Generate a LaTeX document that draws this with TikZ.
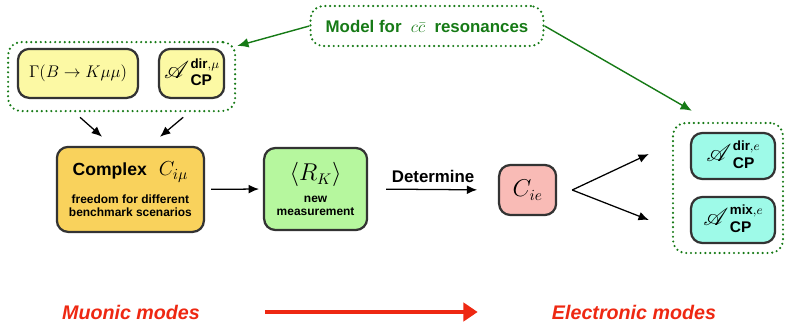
\documentclass[tikz,border=0pt]{standalone}
\usepackage{fontspec}
\setmainfont{Liberation Sans}
\usepackage{amsmath}
\usepackage{amssymb}
\usepackage{mathrsfs}
\usepackage{xcolor}
\usetikzlibrary{arrows.meta}

\definecolor{boxyellow}{RGB}{252,249,164}
\definecolor{cplxorange}{RGB}{249,210,92}
\definecolor{rkgreen}{RGB}{182,247,158}
\definecolor{ciepink}{RGB}{249,187,182}
\definecolor{ecyan}{RGB}{158,250,232}
\definecolor{modelgreen}{RGB}{22,122,22}
\definecolor{modered}{RGB}{238,40,18}

% asymmetry symbol: script A, small upper label, CP below
\newcommand{\acpsym}[1]{{\fontsize{16}{16}\selectfont\raisebox{5pt}{$\mathscr{A}$}}\hspace{1pt}\begin{tabular}[b]{@{}l@{}}{\fontsize{9.5}{10}\selectfont #1}\\CP\end{tabular}}

\begin{document}
\begin{tikzpicture}[
    box/.style={draw=black!80,line width=1.6pt,rounded corners=8pt,align=center,inner sep=2pt},
    asym/.style={box,font=\fontsize{11}{12.5}\selectfont\bfseries},
    grp/.style={draw=modelgreen,line width=1.7pt,dash pattern=on 0pt off 3.4pt,line cap=round,rounded corners=9pt},
    arr/.style={-{Latex[length=2.6mm,width=2.2mm]},line width=0.9pt},
    garr/.style={-{Latex[length=2.8mm,width=2.4mm]},line width=1pt,draw=modelgreen,fill=modelgreen},
    redarr/.style={-{Triangle[length=3.6mm,width=4.6mm]},line width=2.8pt,draw=modered,fill=modered},
    lbl/.style={font=\fontsize{12}{14}\selectfont\bfseries},
    mode/.style={text=modered,inner sep=0pt,font=\fontsize{14}{16}\selectfont\bfseries\itshape}
  ]
  \useasboundingbox (0,0) rectangle (19.65,8.225);

            % top: model for the resonances
            \node (model) at (10.675,7.575) [grp,minimum width=5.825cm,minimum height=1cm,text=modelgreen,lbl] {Model for \;$c\bar{c}$\; resonances};

            % muonic inputs
            \node (gam) at (1.95,6.39) [box,fill=boxyellow,minimum width=3cm,minimum height=1.225cm,font=\fontsize{13}{15}\selectfont] {$\Gamma(B\to K\mu\mu)$};
            \node (adirmu) at (4.79,6.39) [asym,fill=boxyellow,minimum width=1.625cm,minimum height=1.225cm] {\acpsym{dir${,}\mu$}};
            \node (lgrp) at (3.04,6.31) [grp,minimum width=5.675cm,minimum height=1.725cm] {};

            % middle row
            \node (cplx) at (3.26,3.49) [box,fill=cplxorange,minimum width=3.675cm,minimum height=2.125cm,font=\fontsize{8.5}{9.5}\selectfont\bfseries] {{\fontsize{12.5}{14}\selectfont Complex}\quad{\fontsize{15}{15}\selectfont$C_{i\mu}$}\\[8pt]freedom for different\\benchmark scenarios};
            \node (rk) at (7.89,3.5) [box,fill=rkgreen,minimum width=2.575cm,minimum height=2.05cm,font=\fontsize{8.5}{9.5}\selectfont\bfseries] {{\fontsize{16}{16}\selectfont$\langle R_K\rangle$}\\[6pt]new\\measurement};
            \node (cie) at (13.19,3.475) [box,fill=ciepink,minimum width=1.425cm,minimum height=1.25cm,font=\fontsize{16}{16}\selectfont] {$C_{ie}$};

            % electronic outputs
            \node (edir) at (18.325,4.325) [asym,fill=ecyan,minimum width=2.1cm,minimum height=1.15cm] {\acpsym{dir${,}e$}};
            \node (emix) at (18.325,2.725) [asym,fill=ecyan,minimum width=2.1cm,minimum height=1.15cm] {\acpsym{mix${,}e$}};
            \node (rgrp) at (18.2,3.525) [grp,minimum width=2.75cm,minimum height=3.25cm] {};

            % bottom
            \node (muon) at (3.275,0.425) [mode] {Muonic modes};
            \node (elec) at (15.85,0.425) [mode] {Electronic modes};

            \coordinate (fork) at ([xshift=0.375cm]cie.east);

            \draw[arr] ([xshift=-1.04cm,yshift=-0.125cm]lgrp.south) -- ([xshift=-0.71cm,yshift=0.225cm]cplx.north);
            \draw[arr] ([xshift=1.54cm,yshift=-0.125cm]lgrp.south) -- ([xshift=0.74cm,yshift=0.225cm]cplx.north);
            \draw[arr,shorten <=0.15cm,shorten >=0.1cm] (cplx.east) -- (rk.west);
            \draw[arr,shorten <=0.45cm,shorten >=0.52cm] (rk.east) -- node[above,lbl,yshift=1pt] {Determine} (cie.west);
            \draw[arr] (fork) -- ([xshift=-1.025cm,yshift=0.05cm]edir.west);
            \draw[arr] (fork) -- ([xshift=-1.025cm]emix.west);
            \draw[garr] (model.west) -- ([xshift=0.025cm,yshift=-0.125cm]lgrp.north east);
            \draw[garr] (model.east) -- ([xshift=0.5cm,yshift=0.275cm]rgrp.north west);
            \draw[redarr,shorten <=1.625cm,shorten >=1.85cm] (muon.east) -- (elec.west);

\end{tikzpicture}
\end{document}
